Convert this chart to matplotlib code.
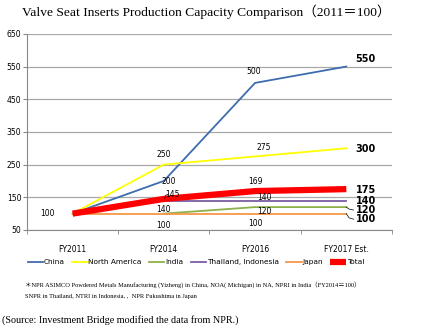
import numpy as np
import matplotlib.pyplot as plt

# categories and series (index, 2011 = 100)
years = ["FY2011", "FY2014", "FY2016", "FY2017 Est."]
china = [100, 200, 500, 550]
north_america = [100, 250, 275, 300]
india = [np.nan, 100, 120, 120]
thailand = [np.nan, 140, 140, 140]
japan = [100, 100, 100, 100]
total = [100, 145, 169, 175]

serif = ["Liberation Serif", "Noto Sans CJK JP"]

fig = plt.figure(figsize=(4.21, 3.29), dpi=100)
ax = fig.add_axes([0.064, 0.301, 0.867, 0.596])

x = np.arange(len(years))
ax.plot(x, china, color="#3E6DAE", lw=1.3, label="China")
ax.plot(x, north_america, color="#FFFF00", lw=1.3, label="North America")
ax.plot(x, india, color="#8CB14A", lw=1.3, label="India")
ax.plot(x, thailand, color="#7A5EA0", lw=1.3, label="Thailand, Indonesia")
ax.plot(x, japan, color="#F79646", lw=1.3, label="Japan")
ax.plot(x, total, color="#FF0000", lw=4.5, label="Total", solid_capstyle="butt")

ax.set_xlim(-0.5, 3.5)
ax.set_ylim(50, 650)
ax.set_yticks(range(50, 651, 100))
ax.set_xticks(x)
ax.set_xticklabels(years)
ax.set_xticks(np.arange(-0.5, 3.6, 1), minor=True)
ax.tick_params(axis="x", which="major", length=0, labelsize=5.5, pad=11)
ax.tick_params(axis="x", which="minor", length=3, color="#888888", direction="out")
ax.tick_params(axis="y", labelsize=5.5, length=3, color="#888888", pad=1)
ax.grid(axis="y", color="#A8A8A8", lw=0.9)
ax.set_axisbelow(True)
for s in ["top", "right"]:
    ax.spines[s].set_visible(False)
ax.spines["left"].set_color("#888888")
ax.spines["bottom"].set_color("#888888")

fs = 5.5
# data labels
ax.text(-0.2, 100, "100", fontsize=fs, ha="right", va="center")
ax.text(1, 280, "250", fontsize=fs, ha="center", va="center")
ax.text(1.05, 197, "200", fontsize=fs, ha="center", va="center")
ax.text(1.1, 160, "145", fontsize=fs, ha="center", va="center")
ax.plot([1.01, 1.02, 1.05], [146, 156, 160], color="black", lw=0.5)
ax.text(1, 114, "140", fontsize=fs, ha="center", va="center")
ax.text(1, 65, "100", fontsize=fs, ha="center", va="center")
ax.text(1.98, 534, "500", fontsize=fs, ha="center", va="center")
ax.text(2.1, 301, "275", fontsize=fs, ha="center", va="center")
ax.text(2, 197, "169", fontsize=fs, ha="center", va="center")
ax.text(2.1, 148, "140", fontsize=fs, ha="center", va="center")
ax.text(2.1, 108, "120", fontsize=fs, ha="center", va="center")
ax.text(2, 71, "100", fontsize=fs, ha="center", va="center")

# end labels
ex = 3.1
for val, yy in [(550, 573), (300, 298), (175, 172), (140, 138), (120, 111), (100, 83)]:
    ax.text(ex, yy, str(val), fontsize=7, fontweight="bold", ha="left", va="center")
ax.plot([3.0, 3.03, 3.08], [120, 114, 111], color="black", lw=0.5)
ax.plot([3.0, 3.03, 3.08], [100, 87, 83], color="black", lw=0.5)

leg = fig.legend(loc="center", bbox_to_anchor=(0.465, 0.203), ncol=6, frameon=False,
                 fontsize=5.3, handlelength=2.1, handletextpad=0.1, columnspacing=1.0)

fig.text(0.052, 0.964, "Valve Seat Inserts Production Capacity Comparison（2011＝100）",
         fontsize=9.7, family=serif, va="center")
fig.text(0.06, 0.134, "＊NPR ASIMCO Powdered Metals Manufacturing (Yizheng) in China, NOA( Michigan) in NA, NPRI in India（FY2014＝100）",
         fontsize=4.6, family=serif, va="center")
fig.text(0.06, 0.098, "SNPR in Thailand, NTRI in Indonesia, ,  NPR Fukushima in Japan",
         fontsize=4.6, family=serif, va="center")
fig.text(0.004, 0.027, "(Source: Investment Bridge modified the data from NPR.)",
         fontsize=7.3, family=serif, va="center")

fig.savefig("out.png", dpi=100)
